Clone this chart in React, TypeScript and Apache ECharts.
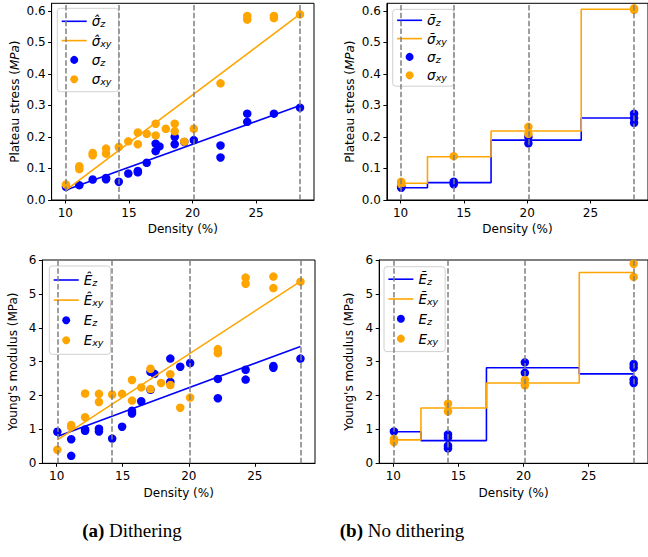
import React, { useEffect, useRef } from "react";
import * as echarts from "echarts";

const BLUE = "#0000ff";
const ORANGE = "#ffa500";

// densities of the non-dithered samples (dashed guides)
const sampleDensities = [10.05, 14.2, 20.1, 28.45];
const xTicks = [10, 15, 20, 25];
const stressTicks = [0, 0.1, 0.2, 0.3, 0.4, 0.5, 0.6];

// (a) Dithering – plateau stress
const ditherSigmaZDensity = [10.05, 11.1, 12.15, 13.2, 13.2, 14.2, 14.95, 15.7, 15.7, 16.4, 17.1, 17.1, 17.4, 18.6, 18.6, 19.35, 20.1, 22.2, 22.2, 24.3, 24.3, 26.4, 28.45];
const ditherSigmaZ = [0.042, 0.047, 0.065, 0.066, 0.07, 0.058, 0.084, 0.092, 0.088, 0.118, 0.155, 0.179, 0.17, 0.2, 0.177, 0.184, 0.19, 0.173, 0.135, 0.274, 0.248, 0.274, 0.293];
const ditherSigmaXYDensity = [10.05, 11.1, 11.1, 12.15, 12.15, 13.2, 13.2, 14.2, 14.95, 15.7, 15.7, 16.4, 17.1, 17.1, 17.9, 18.6, 18.6, 19.35, 20.1, 22.2, 24.3, 24.3, 26.4, 26.4, 28.45];
const ditherSigmaXY = [0.049, 0.107, 0.098, 0.149, 0.142, 0.163, 0.147, 0.168, 0.186, 0.214, 0.177, 0.21, 0.242, 0.205, 0.226, 0.242, 0.218, 0.185, 0.226, 0.37, 0.584, 0.572, 0.584, 0.577, 0.589];
const fitDensity = [10.05, 28.45];
const ditherSigmaZFit = [0.032, 0.3];
const ditherSigmaXYFit = [0.031, 0.59];

// (a) Dithering – Young's modulus
const ditherEZDensity = [10.05, 11.1, 11.1, 12.15, 12.15, 13.2, 13.2, 14.2, 14.95, 15.7, 15.7, 16.4, 17.1, 17.1, 17.4, 18.6, 18.6, 19.35, 20.1, 22.2, 22.2, 24.3, 24.3, 26.4, 26.4, 28.45];
const ditherEZ = [0.93, 0.71, 0.22, 1.0, 0.96, 1.02, 0.94, 0.73, 1.08, 1.55, 1.47, 1.83, 2.7, 2.17, 2.64, 3.09, 2.4, 2.85, 2.96, 2.49, 1.92, 2.76, 2.47, 2.87, 2.82, 3.09];
const ditherEXYDensity = [10.05, 11.1, 11.1, 12.15, 12.15, 13.2, 13.2, 14.2, 14.95, 15.7, 15.7, 16.4, 17.1, 17.1, 17.9, 18.6, 18.6, 19.35, 20.1, 22.2, 22.2, 24.3, 24.3, 26.4, 26.4, 28.45];
const ditherEXY = [0.4, 1.13, 1.07, 2.06, 1.36, 2.05, 1.81, 2.03, 2.05, 2.46, 1.85, 2.24, 2.79, 2.19, 2.37, 2.63, 2.31, 1.64, 1.94, 3.37, 3.25, 5.48, 5.3, 5.51, 5.17, 5.36];
const ditherEZFit = [0.79, 3.45];
const ditherEXYFit = [0.69, 5.37];

// (b) No dithering – plateau stress
const noDitherSigmaZDensity = [10.05, 10.05, 14.2, 14.2, 20.1, 20.1, 28.45, 28.45, 28.45];
const noDitherSigmaZ = [0.039, 0.044, 0.058, 0.05, 0.2, 0.18, 0.274, 0.26, 0.245];
const noDitherSigmaXYDensity = [10.05, 10.05, 14.2, 20.1, 20.1, 28.45, 28.45];
const noDitherSigmaXY = [0.058, 0.05, 0.139, 0.232, 0.21, 0.608, 0.603];
const meanSigmaZ = [0.039, 0.055, 0.19, 0.26];
const meanSigmaXY = [0.053, 0.137, 0.219, 0.605];

// (b) No dithering – Young's modulus
const noDitherEZDensity = [10.05, 14.2, 14.2, 14.2, 14.2, 20.1, 20.1, 28.45, 28.45, 28.45, 28.45];
const noDitherEZ = [0.94, 0.85, 0.76, 0.52, 0.44, 2.98, 2.67, 2.93, 2.82, 2.47, 2.37];
const noDitherEXYDensity = [10.05, 10.05, 14.2, 14.2, 20.1, 20.1, 28.45, 28.45];
const noDitherEXY = [0.72, 0.63, 1.76, 1.53, 2.46, 2.3, 5.89, 5.5];
const meanEZ = [0.93, 0.67, 2.82, 2.64];
const meanEXY = [0.69, 1.63, 2.37, 5.63];

const zip = (xs: number[], ys: number[]) => xs.map((x, i) => [x, ys[i]]);

const FONT = "DejaVu Sans";
const LINE_ICON = "path://M0 0H25V1.6H0Z";

const legendRich = {
  m: { fontFamily: FONT, fontStyle: "italic", fontSize: 13.5, lineHeight: 15, color: "#000" },
  s: { fontFamily: FONT, fontStyle: "italic", fontSize: 9.5, lineHeight: 8, verticalAlign: "bottom", color: "#000" },
};

function buildOption() {
  const grids = [
    { left: 51.6, top: 3.3, width: 262.4, height: 196.7 },
    { left: 386.9, top: 3.3, width: 262.5, height: 196.7 },
    { left: 42.4, top: 260, width: 272.6, height: 203.3 },
    { left: 379.2, top: 260, width: 269.2, height: 203.3 },
  ].map((g) => ({ ...g, show: true, borderColor: "#000", borderWidth: 1, backgroundColor: "transparent" }));

  const nameGapsY = [31, 31, 23, 24];
  const nameGapsX = [23, 23, 24, 24];

  const xAxis = [0, 1, 2, 3].map((i) => ({
    type: "value",
    gridIndex: i,
    min: 8.92,
    max: 29.55,
    name: "Density (%)",
    nameLocation: "middle",
    nameGap: nameGapsX[i],
    nameTextStyle: { fontFamily: FONT, fontSize: 12, color: "#000" },
    axisLine: { show: true, onZero: false, lineStyle: { color: "#000", width: 1 } },
    axisTick: { show: true, length: 3.5, customValues: xTicks, lineStyle: { color: "#000" } },
    axisLabel: { customValues: xTicks, margin: 7, fontFamily: FONT, fontSize: 12, color: "#000" },
    splitLine: { show: false },
  }));

  const yAxis = [0, 1, 2, 3].map((i) => {
    const stress = i < 2;
    const base: any = {
      type: "value",
      gridIndex: i,
      min: 0,
      max: stress ? 0.624 : 6,
      name: stress ? "Plateau stress ({i|MPa})" : "Young's modulus (MPa)",
      nameLocation: "middle",
      nameGap: nameGapsY[i],
      nameTextStyle: {
        fontFamily: FONT,
        fontSize: 12,
        color: "#000",
        rich: { i: { fontFamily: FONT, fontSize: 12, fontStyle: "italic", color: "#000" } },
      },
      axisLine: { show: true, onZero: false, lineStyle: { color: "#000", width: 1 } },
      splitLine: { show: false },
    };
    if (stress) {
      base.axisTick = { show: true, length: 3.5, customValues: stressTicks, lineStyle: { color: "#000" } };
      base.axisLabel = {
        customValues: stressTicks,
        margin: 6,
        fontFamily: FONT,
        fontSize: 12,
        color: "#000",
        formatter: (v: number) => v.toFixed(1),
      };
    } else {
      base.interval = 1;
      base.axisTick = { show: true, length: 3.5, lineStyle: { color: "#000" } };
      base.axisLabel = { margin: 6, fontFamily: FONT, fontSize: 12, color: "#000" };
    }
    return base;
  });

  const markLine = {
    silent: true,
    symbol: ["none", "none"],
    label: { show: false },
    lineStyle: { type: [5.5, 2.4], width: 1.5, color: "#808080" },
    data: sampleDensities.map((x) => ({ xAxis: x })),
  };

  const scatter = (name: string, idx: number, data: number[][], color: string) => ({
    type: "scatter",
    name,
    xAxisIndex: idx,
    yAxisIndex: idx,
    data,
    symbolSize: 8.5,
    itemStyle: { color, opacity: 1 },
    z: 2,
  });
  const line = (name: string, idx: number, data: number[][], color: string, step: boolean, withGuides: boolean) => ({
    type: "line",
    name,
    xAxisIndex: idx,
    yAxisIndex: idx,
    data,
    step: step ? "middle" : false,
    showSymbol: false,
    symbol: "none",
    color,
    lineStyle: { color, width: 1.6 },
    z: 3,
    ...(withGuides ? { markLine } : {}),
  });

  const sHatZ = "\u03c3\u0302_z";
  const sHatXY = "\u03c3\u0302_xy";
  const sBarZ = "\u03c3\u0304_z";
  const sBarXY = "\u03c3\u0304_xy";
  const sZ = "\u03c3_z";
  const sXY = "\u03c3_xy";
  const eHatZ = "E\u0302_z";
  const eHatXY = "E\u0302_xy";
  const eBarZ = "E\u0304_z";
  const eBarXY = "E\u0304_xy";
  const eZ = "E_z";
  const eXY = "E_xy";

  const series = [
    scatter(sZ, 0, zip(ditherSigmaZDensity, ditherSigmaZ), BLUE),
    scatter(sXY, 0, zip(ditherSigmaXYDensity, ditherSigmaXY), ORANGE),
    line(sHatZ, 0, zip(fitDensity, ditherSigmaZFit), BLUE, false, true),
    line(sHatXY, 0, zip(fitDensity, ditherSigmaXYFit), ORANGE, false, false),

    scatter(sZ, 1, zip(noDitherSigmaZDensity, noDitherSigmaZ), BLUE),
    scatter(sXY, 1, zip(noDitherSigmaXYDensity, noDitherSigmaXY), ORANGE),
    line(sBarZ, 1, zip(sampleDensities, meanSigmaZ), BLUE, true, true),
    line(sBarXY, 1, zip(sampleDensities, meanSigmaXY), ORANGE, true, false),

    scatter(eZ, 2, zip(ditherEZDensity, ditherEZ), BLUE),
    scatter(eXY, 2, zip(ditherEXYDensity, ditherEXY), ORANGE),
    line(eHatZ, 2, zip(fitDensity, ditherEZFit), BLUE, false, true),
    line(eHatXY, 2, zip(fitDensity, ditherEXYFit), ORANGE, false, false),

    scatter(eZ, 3, zip(noDitherEZDensity, noDitherEZ), BLUE),
    scatter(eXY, 3, zip(noDitherEXYDensity, noDitherEXY), ORANGE),
    line(eBarZ, 3, zip(sampleDensities, meanEZ), BLUE, true, true),
    line(eBarXY, 3, zip(sampleDensities, meanEXY), ORANGE, true, false),
  ];

  const mkLegend = (names: string[], left: number, top: number, gap: number, padding: number[]) => ({
    orient: "vertical",
    left,
    top,
    padding,
    itemGap: gap,
    itemWidth: 25,
    itemHeight: 8,
    itemTextGap: 9,
    selectedMode: false,
    borderColor: "#d0d0d0",
    borderWidth: 1,
    borderRadius: 3,
    backgroundColor: "rgba(255,255,255,0.8)",
    formatter: (name: string) => {
      const [a, b] = name.split("_");
      return `{m|${a}}{s|${b}}`;
    },
    textStyle: { rich: legendRich },
    data: [
      { name: names[0], icon: LINE_ICON, itemStyle: { borderWidth: 0 } },
      { name: names[1], icon: LINE_ICON, itemStyle: { borderWidth: 0 } },
      { name: names[2], icon: "circle" },
      { name: names[3], icon: "circle" },
    ],
  });

  const legend = [
    mkLegend([sHatZ, sHatXY, sZ, sXY], 57.3, 8.3, 4.8, [6, 7, 5, 4.4]),
    mkLegend([sBarZ, sBarXY, sZ, sXY], 392.7, 9.3, 3.8, [4, 7, 3.5, 4.4]),
    mkLegend([eHatZ, eHatXY, eZ, eXY], 49.3, 266, 5.6, [7, 7, 6.5, 4.4]),
    mkLegend([eBarZ, eBarXY, eZ, eXY], 384, 266.7, 5.3, [5.5, 7, 5.5, 4.4]),
  ];

  const captionRich = {
    b: { fontFamily: "Liberation Serif", fontSize: 19, fontWeight: "bold", fill: "#000" },
    r: { fontFamily: "Liberation Serif", fontSize: 19, fill: "#000" },
  };

  const graphic = [
    {
      type: "text",
      x: 132,
      y: 530,
      style: {
        text: "{b|(a)}{r| Dithering}",
        rich: captionRich,
        fontFamily: "Liberation Serif",
        fontSize: 19,
        fill: "#000",
        textAlign: "center",
        textVerticalAlign: "middle",
      },
    },
    {
      type: "text",
      x: 402,
      y: 530,
      style: {
        text: "{b|(b)}{r| No dithering}",
        rich: captionRich,
        fontFamily: "Liberation Serif",
        fontSize: 19,
        fill: "#000",
        textAlign: "center",
        textVerticalAlign: "middle",
      },
    },
  ];

  return {
    animation: false,
    backgroundColor: "#fff",
    textStyle: { fontFamily: FONT },
    grid: grids,
    xAxis,
    yAxis,
    legend,
    series,
    graphic,
  };
}

export default function App() {
  const ref = useRef<HTMLDivElement>(null);
  useEffect(() => {
    if (!ref.current) return;
    const chart = echarts.init(ref.current, null, { renderer: "svg" });
    chart.setOption(buildOption() as any);
    return () => chart.dispose();
  }, []);
  return (
    <div
      ref={ref}
      style={{ position: "absolute", left: 0, top: 0, width: 648, height: 557, background: "#fff" }}
    />
  );
}
